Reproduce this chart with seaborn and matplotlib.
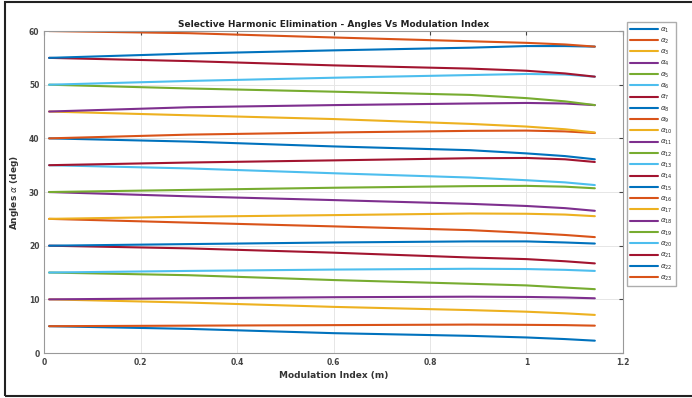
import numpy as np
import pandas as pd
import matplotlib
matplotlib.use("Agg")
import matplotlib.pyplot as plt
from matplotlib.patches import Rectangle
import seaborn as sns

# Modulation index sample points
m = [0.01, 0.3, 0.6, 0.883, 1.0, 1.08, 1.142]

a1 = [5.0, 4.5, 3.7, 3.2, 2.9, 2.6, 2.3]
a2 = [5.0, 5.1, 5.2, 5.3, 5.25, 5.2, 5.1]
a3 = [10.0, 9.4, 8.6, 8.0, 7.7, 7.4, 7.1]
a4 = [10.0, 10.2, 10.4, 10.5, 10.45, 10.35, 10.2]
a5 = [15.0, 14.5, 13.6, 12.9, 12.6, 12.2, 11.9]
a6 = [15.0, 15.3, 15.55, 15.7, 15.65, 15.5, 15.3]
a7 = [20.0, 19.5, 18.7, 17.8, 17.5, 17.1, 16.7]
a8 = [20.0, 20.3, 20.6, 20.8, 20.8, 20.6, 20.4]
a9 = [25.0, 24.3, 23.6, 22.9, 22.4, 22.0, 21.6]
a10 = [25.0, 25.4, 25.7, 26.0, 25.95, 25.8, 25.5]
a11 = [30.0, 29.2, 28.5, 27.8, 27.4, 27.0, 26.5]
a12 = [30.0, 30.4, 30.8, 31.1, 31.15, 31.0, 30.7]
a13 = [35.0, 34.4, 33.5, 32.7, 32.2, 31.8, 31.3]
a14 = [35.0, 35.5, 35.9, 36.3, 36.35, 36.1, 35.6]
a15 = [40.0, 39.4, 38.5, 37.8, 37.2, 36.7, 36.1]
a16 = [40.0, 40.7, 41.1, 41.4, 41.45, 41.3, 41.0]
a17 = [45.0, 44.3, 43.6, 42.7, 42.2, 41.7, 41.1]
a18 = [45.0, 45.8, 46.2, 46.5, 46.6, 46.5, 46.2]
a19 = [50.0, 49.3, 48.7, 48.1, 47.5, 46.9, 46.2]
a20 = [50.0, 50.7, 51.3, 51.8, 52.0, 51.9, 51.5]
a21 = [55.0, 54.4, 53.6, 53.0, 52.6, 52.1, 51.5]
a22 = [55.0, 55.8, 56.4, 56.9, 57.2, 57.2, 57.1]
a23 = [60.0, 59.6, 58.8, 58.1, 57.8, 57.5, 57.1]

series = [a1, a2, a3, a4, a5, a6, a7, a8, a9, a10, a11, a12,
          a13, a14, a15, a16, a17, a18, a19, a20, a21, a22, a23]
labels = [r"$\alpha_{%d}$" % (i + 1) for i in range(len(series))]

x_ticks = [0, 0.2, 0.4, 0.6, 0.8, 1, 1.2]
x_tick_labels = ["0", "0.2", "0.4", "0.6", "0.8", "1", "1.2"]
y_ticks = [0, 10, 20, 30, 40, 50, 60]

matlab_colors = ["#0072BD", "#D95319", "#EDB120", "#7E2F8E",
                 "#77AC30", "#4DBEEE", "#A2142F"]
palette = [matlab_colors[i % 7] for i in range(len(series))]

rows = []
for lab, vals in zip(labels, series):
    for xv, yv in zip(m, vals):
        rows.append({"m": xv, "angle": yv, "series": lab})
df = pd.DataFrame(rows)

sns.set_style("whitegrid")
plt.rcParams["font.family"] = ["DejaVu Sans"]

fig = plt.figure(figsize=(6.92, 3.98), dpi=100)
ax = fig.add_axes([0.064, 0.113, 0.836, 0.809])

sns.lineplot(data=df, x="m", y="angle", hue="series", palette=palette,
             hue_order=labels, linewidth=1.5, ax=ax, legend=True,
             estimator=None, sort=False)

ax.set_xlim(0, 1.2)
ax.set_ylim(0, 60)
ax.set_xticks(x_ticks)
ax.set_xticklabels(x_tick_labels)
ax.set_yticks(y_ticks)
ax.tick_params(axis="both", labelsize=5.5, colors="#444444", direction="in",
               length=3, top=True, right=True, labeltop=False, labelright=False)
for lbl in ax.get_xticklabels() + ax.get_yticklabels():
    lbl.set_fontweight("bold")
ax.grid(True, color="#e6e6e6", linewidth=0.7)
for sp in ax.spines.values():
    sp.set_color("#999999")
    sp.set_linewidth(0.8)

ax.set_xlabel("Modulation Index (m)", fontsize=6.5, fontweight="bold", color="#333333", labelpad=3)
ax.set_ylabel(r"Angles $\alpha$ (deg)", fontsize=6.5, fontweight="bold", color="#333333", labelpad=6)
ax.set_title("Selective Harmonic Elimination - Angles Vs Modulation Index",
             fontsize=6.5, fontweight="bold", color="#222222", pad=3)

handles, labs = ax.get_legend_handles_labels()
ax.legend_.remove()
leg = fig.legend(handles, labs, loc="upper left", bbox_to_anchor=(0.906, 0.945),
                 bbox_transform=fig.transFigure, fontsize=5, frameon=True,
                 fancybox=False, edgecolor="#999999", handlelength=4.0,
                 handletextpad=0.3, labelspacing=0.3, borderpad=0.5,
                 borderaxespad=0)
for line in leg.get_lines():
    line.set_linewidth(1.5)

fig.patches.append(Rectangle((0.007, 0.004), 1.2, 0.992, transform=fig.transFigure,
                             fill=False, edgecolor="#222222", linewidth=1.5))

fig.savefig("out.png", dpi=100)
